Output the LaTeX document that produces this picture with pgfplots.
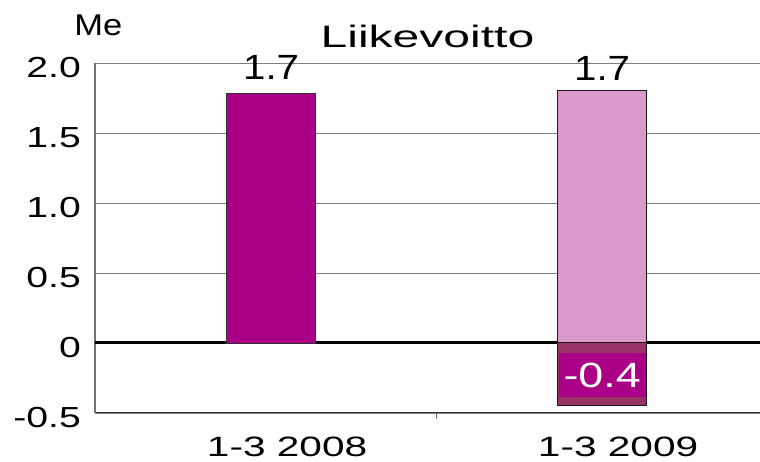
\documentclass[border=0pt]{standalone}
\usepackage{fontspec}
\setmainfont{Liberation Sans}
\newfontfamily\ytfont{Liberation Sans}[FakeStretch=1.35]
\newfontfamily\xtfont{Liberation Sans}[FakeStretch=1.45]
\newfontfamily\ttlfont{Liberation Sans}[FakeStretch=1.55]
\newfontfamily\lblfont{Liberation Sans}[FakeStretch=1.15]
\newfontfamily\neglblfont{Liberation Sans}[FakeStretch=1.28]
\usepackage{pgfplots}
\pgfplotsset{compat=1.18}
\definecolor{magbar}{HTML}{AA0088}
\definecolor{pinkbar}{HTML}{DD99CC}
\definecolor{negbar}{HTML}{993366}
\begin{document}
\begin{tikzpicture}
\begin{axis}[
  scale only axis, width=665pt, height=350pt,
  xmin=-0.532, xmax=1.477, ymin=-0.5, ymax=2.0,
  clip=false,
  axis lines*=left,
  x axis line style={draw=black!80, line width=1pt},
  y axis line style={draw=black!55, line width=1.2pt},
  ytick={-0.5,0.5,1.0,1.5,2.0},
  yticklabels={-0.5,0.5,1.0,1.5,2.0},
  extra y ticks={0},
  extra y tick labels={0},
  extra y tick style={grid=major, major grid style={draw=black, line width=3pt}},
  ymajorgrids,
  major grid style={draw=black!50, line width=0.9pt},
  major y tick style={draw=none},
  yticklabel style={font=\ytfont\fontsize{29}{29}\selectfont, anchor=east, inner sep=0pt, xshift=-8pt, yshift=-5pt},
  xtick={0.5},
  xticklabels={},
  major x tick style={draw=black!60, line width=1pt},
  major tick length=6pt,
  tick align=outside,
  extra x ticks={0,1},
  extra x tick labels={1-3 2008,1-3 2009},
  extra x tick style={major tick length=0pt, xticklabel style={font=\xtfont\fontsize{28}{28}\selectfont, anchor=base, yshift=-44pt, xshift=16pt, text depth=0pt, inner sep=0pt}},
  title={\ttlfont\fontsize{31}{31}\selectfont Liikevoitto},
  title style={at={(rel axis cs:0.5,1)}, anchor=base, yshift=9pt, inner sep=0pt},
]
\addplot[ybar, bar width=89pt, bar shift=0pt, fill=magbar, draw=black!80, line width=0.8pt,
  nodes near coords, point meta=explicit symbolic,
  every node near coord/.append style={font=\lblfont\fontsize{35}{35}\selectfont, anchor=base, yshift=13pt, inner sep=0pt, text=black}]
  coordinates {(0,1.786)[1.7]};
\addplot[ybar, bar width=89pt, bar shift=0pt, fill=pinkbar, draw=black!90, line width=1pt,
  nodes near coords, point meta=explicit symbolic,
  every node near coord/.append style={font=\lblfont\fontsize{35}{35}\selectfont, anchor=base, yshift=10pt, inner sep=0pt, text=black}]
  coordinates {(1,1.807)[1.7]};
\addplot[ybar, bar width=89pt, bar shift=0pt, fill=negbar, draw=black!90, line width=1pt,
  nodes near coords, point meta=explicit symbolic,
  every node near coord/.append style={font=\neglblfont\fontsize{35}{35}\selectfont, anchor=center, yshift=31pt, fill=magbar, text=white, minimum width=87pt, minimum height=44pt, inner sep=0pt}]
  coordinates {(1,-0.45)[-0.4]};
\node[anchor=base, font=\lblfont\fontsize{30}{30}\selectfont, inner sep=0pt] at (rel axis cs:0.005,1) [yshift=27pt] {Me};
\coordinate (ll) at (rel axis cs:0,0);
\coordinate (ur) at (rel axis cs:1,1);
\end{axis}
\pgfresetboundingbox
\path ([shift={(-95pt,-49pt)}]ll) rectangle ([shift={(0pt,63pt)}]ur);
\end{tikzpicture}
\end{document}
